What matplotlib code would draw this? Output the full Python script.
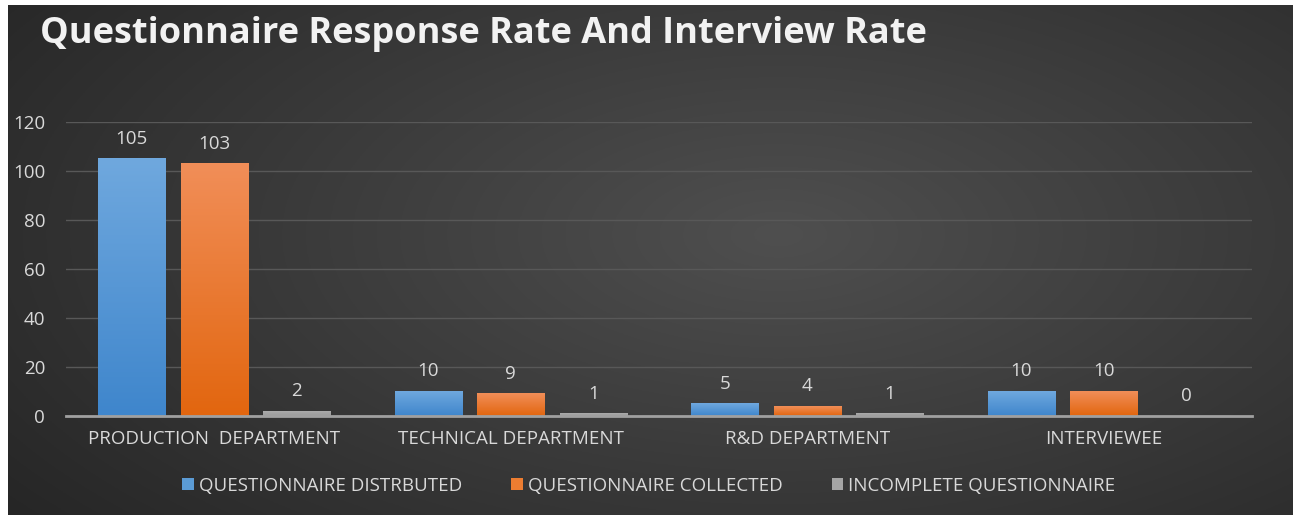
import numpy as np
import matplotlib
matplotlib.use("Agg")
import matplotlib.pyplot as plt
from matplotlib.colors import LinearSegmentedColormap

# Datos del gráfico
categorias = ["PRODUCTION  DEPARTMENT", "TECHNICAL DEPARTMENT", "R&D DEPARTMENT", "INTERVIEWEE"]
distribuidos = [105, 10, 5, 10]
recogidos = [103, 9, 4, 10]
incompletos = [2, 1, 1, 0]
series = ["QUESTIONNAIRE DISTRBUTED", "QUESTIONNAIRE COLLECTED", "INCOMPLETE QUESTIONNAIRE"]
colores = ["#5B9BD5", "#ED7D31", "#A5A5A5"]
# degradado de cada serie (arriba, abajo)
degradados = [("#6FA8DE", "#3F86CC"), ("#F18E58", "#E2660F"), ("#ABABAB", "#9A9A9A")]
titulo = "Questionnaire Response Rate And Interview Rate"

plt.rcParams["font.family"] = ["Open Sans", "DejaVu Sans"]
texto = "#d9d9d9"

fig = plt.figure(figsize=(12.98, 5.15), dpi=100)
fig.patch.set_facecolor("white")

# Fondo con degradado radial
bg = fig.add_axes([8 / 1298, 0, 1285 / 1298, 510 / 515], zorder=0)
yy, xx = np.mgrid[0:1:300j, 0:1:700j]
r = np.sqrt(((xx - 0.6) / 0.75) ** 2 + ((yy - 0.45) / 0.9) ** 2)
g = np.clip(0.31 - 0.16 * r, 0.15, 0.31)
bg.imshow(np.dstack([g, g, g]), aspect="auto", extent=[0, 1, 0, 1])
bg.set_axis_off()

ax = fig.add_axes([66 / 1298, 99 / 515, 1186 / 1298, 294 / 515], zorder=1)
ax.patch.set_alpha(0)

x = np.arange(len(categorias))
ancho = 0.226
desp = 0.278
grad = np.linspace(1, 0, 100).reshape(-1, 1)
for i, (vals, col, nom, dg) in enumerate(zip([distribuidos, recogidos, incompletos], colores, series, degradados)):
    barras = ax.bar(x + (i - 1) * desp, vals, ancho, color=col, label=nom, zorder=3)
    cmap = LinearSegmentedColormap.from_list("g%d" % i, [dg[1], dg[0]])
    for b, v in zip(barras, vals):
        if v > 0:
            ax.imshow(grad, cmap=cmap, aspect="auto", zorder=3.5, vmin=0, vmax=1,
                      extent=[b.get_x(), b.get_x() + b.get_width(), 0, v])
        ax.text(b.get_x() + b.get_width() / 2, v + 4.5, str(v), ha="center", va="bottom",
                color=texto, fontsize=13.5)

ax.set_xlim(-0.5, 3.5)
ax.set_ylim(0, 120)
ax.set_yticks(range(0, 121, 20))
ax.set_xticks(x)
ax.set_xticklabels(categorias)
ax.tick_params(axis="both", colors=texto, labelsize=13.5, length=0)
ax.tick_params(axis="x", pad=10)
ax.tick_params(axis="y", pad=15)
ax.grid(axis="y", color="#585858", linewidth=1, zorder=0)
for s in ["top", "right", "left"]:
    ax.spines[s].set_visible(False)
ax.spines["bottom"].set_color("#a0a0a0")
ax.spines["bottom"].set_linewidth(2)
ax.spines["bottom"].set_zorder(4)

leg = fig.legend(loc="center", bbox_to_anchor=(0.5, 1 - 486 / 515), ncol=3, frameon=False,
                 fontsize=13.5, handlelength=0.6, handleheight=0.6, handletextpad=0.3,
                 columnspacing=2.6)
for t in leg.get_texts():
    t.set_color(texto)

fig.text(40 / 1298, 1 - 34 / 515, titulo, color="#f2f2f2", fontsize=26, fontweight="bold",
         va="center", ha="left")

fig.savefig("out.png", dpi=100)
